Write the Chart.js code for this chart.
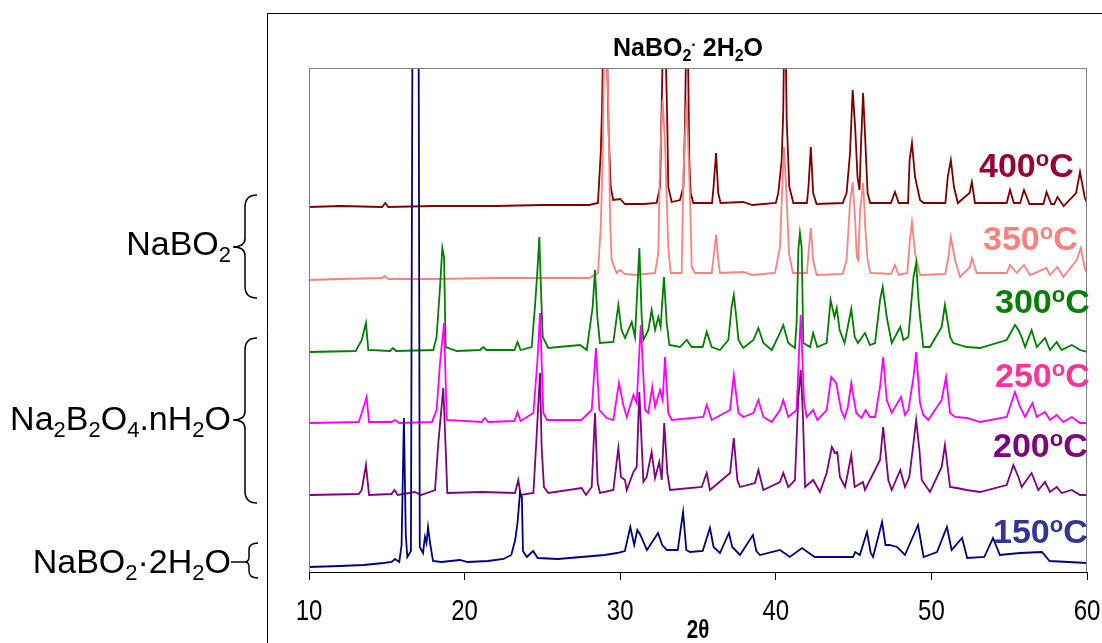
<!DOCTYPE html>
<html><head><meta charset="utf-8">
<script src="https://cdn.jsdelivr.net/npm/chart.js@4.4.0/dist/chart.umd.min.js"></script>
<style>html,body{margin:0;padding:0;background:#fff;overflow:hidden}</style>
</head><body>
<canvas id="c" width="1102" height="643"></canvas>
<script>
// ---------- DATA ----------
const temperatures = ['150', '200', '250', '300', '350', '400'];
const offsets = [7, 77, 149, 220, 293, 365];           // stacking offsets (intensity units)
const lineColors = ['#000080', '#800080', '#FF00FF', '#008000', '#FF8080', '#800000'];
const labelColors = ['#333399', '#800080', '#FF3399', '#008000', '#FF8080', '#990033'];
const xTicks = [10, 20, 30, 40, 50, 60];
const axisTitle = '2θ';
const titleParts = [['NaBO', ''], ['2', 'sub'], ['.', 'sup'], [' 2H', ''], ['2', 'sub'], ['O', '']];
const phaseLabels = [
  [['NaBO', ''], ['2', 'sub']],
  [['Na', ''], ['2', 'sub'], ['B', ''], ['2', 'sub'], ['O', ''], ['4', 'sub'], ['.nH', ''], ['2', 'sub'], ['O', '']],
  [['NaBO', ''], ['2', 'sub'], ['·', ''], ['2H', ''], ['2', 'sub'], ['O', '']]
];

// [2theta, intensity above the pattern's own baseline]
const pattern150 = [[10,-2],[12,-1],[13.5,0],[14.8,2],[15.3,3],[15.53,6],[15.8,3],[15.95,20],[16.1,147],[16.22,30],[16.32,8],[16.55,14],[16.68,700],[17.02,700],[17.12,18],[17.33,12],[17.45,28],[17.55,22],[17.65,38],[17.78,22],[17.97,4],[18.5,3],[19.7,5],[20.2,3],[21.5,4],[22.5,6],[23.0,10],[23.25,25],[23.4,42],[23.56,72],[23.68,68],[23.75,14],[24.0,8],[24.4,14],[24.7,7],[26.0,6],[27.5,8],[29.0,10],[29.8,12],[30.3,14],[30.65,38],[30.9,20],[31.1,35],[31.3,30],[31.72,15],[32.43,32],[32.7,20],[33.0,15],[33.7,15],[34.04,53],[34.25,15],[34.49,13],[35.3,14],[35.77,37],[36.0,18],[36.41,12],[36.99,32],[37.2,18],[37.7,10],[38.53,30],[38.75,14],[38.98,10],[40.27,15],[40.9,8],[41.68,17],[42.5,8],[44.96,8],[45.1,13],[45.4,10],[45.86,33],[46.1,12],[46.25,8],[46.83,43],[47.05,20],[47.3,20],[47.8,18],[48.3,10],[49.14,40],[49.5,8],[50.36,13],[51.0,38],[51.3,15],[51.97,27],[52.3,7],[53.4,8],[53.96,27],[54.4,10],[55.7,12],[57.1,13],[57.6,4],[60,2]];
const pattern200 = [[10,0],[13.2,1],[13.39,5],[13.66,30],[13.86,0],[15.3,1],[15.49,5],[15.7,0],[16.81,3],[17.2,0],[18.1,5],[18.31,52],[18.63,107],[18.78,48],[18.89,2],[21.1,3],[23.24,2],[23.45,15],[23.6,0],[24.42,2],[24.59,48],[24.85,122],[24.95,48],[25.1,8],[25.38,2],[27.52,7],[27.8,0],[28.17,8],[28.38,82],[28.55,12],[28.7,2],[29.56,5],[29.88,47],[30.05,18],[30.31,15],[30.42,5],[30.85,23],[31.06,28],[31.23,103],[31.49,13],[31.7,18],[32.02,43],[32.24,17],[32.51,33],[32.67,15],[32.83,72],[33.03,22],[33.2,5],[35.24,8],[35.56,22],[35.77,5],[37.06,22],[37.3,57],[37.53,15],[37.7,8],[38.66,12],[38.88,25],[39.2,5],[40.27,13],[40.48,22],[40.8,8],[41.23,15],[41.44,95],[41.6,125],[41.73,85],[41.88,8],[42.4,15],[42.84,3],[43.27,22],[43.6,48],[43.8,42],[43.95,43],[44.12,18],[44.45,8],[44.63,22],[44.85,40],[45.07,8],[45.6,13],[45.73,5],[46.7,35],[46.9,68],[47.23,15],[47.45,5],[48.0,25],[48.3,8],[48.58,18],[48.85,52],[49.02,75],[49.23,45],[49.38,15],[49.91,3],[50.66,28],[50.87,50],[51.2,8],[51.62,7],[52.27,5],[53.12,3],[54.84,10],[55.27,30],[55.59,18],[55.8,8],[56.44,22],[56.87,5],[57.3,13],[57.62,3],[58.05,8],[58.37,2],[59.02,5],[59.55,0],[60,0]];
const pattern250 = [[10,0],[13.2,1],[13.39,10],[13.7,26],[13.86,1],[15.3,1],[15.53,3],[15.8,0],[17.9,1],[18.2,13],[18.42,60],[18.68,100],[18.85,3],[21.1,1],[21.3,5],[21.5,1],[23.2,2],[23.4,11],[23.6,2],[24.42,10],[24.67,60],[24.85,110],[25.06,10],[25.3,3],[27.5,3],[28.17,13],[28.44,75],[28.66,13],[29.13,5],[29.56,3],[29.92,40],[30.2,18],[30.42,6],[30.85,28],[31.06,20],[31.32,98],[31.6,13],[31.8,10],[32.06,36],[32.24,16],[32.56,33],[32.73,23],[32.88,66],[33.09,10],[33.31,3],[35.34,6],[35.56,18],[35.88,3],[37.06,13],[37.3,48],[37.6,10],[37.91,6],[38.56,10],[38.88,23],[39.2,6],[39.74,1],[40.27,13],[40.48,23],[40.8,6],[41.34,13],[41.5,73],[41.6,108],[41.73,56],[41.81,23],[41.98,6],[42.4,13],[42.67,3],[43.27,13],[43.56,46],[43.88,40],[44.2,13],[44.42,5],[44.63,16],[44.85,40],[45.17,10],[45.5,5],[45.77,13],[46.05,6],[46.38,6],[46.7,36],[46.9,66],[47.13,23],[47.45,10],[48.05,26],[48.3,8],[48.52,13],[48.85,46],[49.02,71],[49.27,20],[49.48,8],[49.8,3],[50.66,23],[50.94,46],[51.2,10],[51.52,6],[52.27,5],[53.12,1],[54.84,6],[55.37,31],[55.7,16],[56.02,6],[56.49,20],[56.77,6],[57.3,11],[57.62,3],[58.05,8],[58.48,1],[59.02,6],[59.55,0],[60,0]];
const pattern300 = [[10,0],[13.0,1],[13.39,12],[13.66,29],[13.81,2],[15.2,1],[15.4,4],[15.6,1],[17.99,2],[18.2,15],[18.42,65],[18.57,104],[18.68,95],[18.78,5],[19.5,1],[21.0,2],[21.2,5],[21.4,2],[23.2,2],[23.4,10],[23.6,2],[24.31,5],[24.52,45],[24.67,79],[24.8,115],[24.91,62],[25.02,15],[25.38,4],[27.42,7],[27.85,2],[28.23,45],[28.38,82],[28.53,35],[28.7,9],[29.56,10],[29.88,47],[30.09,22],[30.31,14],[30.74,30],[30.95,15],[31.1,62],[31.23,104],[31.38,35],[31.49,12],[31.81,22],[32.02,42],[32.24,22],[32.45,35],[32.6,25],[32.81,75],[32.99,29],[33.16,7],[33.84,5],[34.27,12],[34.6,5],[35.3,5],[35.56,20],[35.88,5],[36.41,2],[36.95,12],[37.16,45],[37.3,57],[37.46,35],[37.6,12],[37.91,4],[38.56,12],[38.88,24],[39.2,9],[39.74,2],[40.27,19],[40.48,27],[40.8,9],[41.23,4],[41.34,30],[41.45,102],[41.55,119],[41.66,105],[41.77,9],[42.2,5],[42.4,19],[42.67,5],[43.27,9],[43.52,52],[43.77,35],[43.92,44],[44.1,22],[44.42,9],[44.85,43],[45.07,15],[45.28,9],[45.73,19],[46.05,7],[46.38,9],[46.7,52],[46.87,65],[47.13,35],[47.45,9],[48.0,25],[48.2,12],[48.52,15],[48.85,75],[49.02,89],[49.17,52],[49.27,35],[49.48,5],[49.91,5],[50.66,25],[50.87,47],[51.2,15],[51.41,9],[52.27,5],[53.12,4],[54.84,12],[55.37,27],[55.59,22],[55.8,15],[56.02,5],[56.44,22],[56.77,5],[57.3,14],[57.62,2],[58.05,10],[58.37,2],[59.02,7],[59.55,2],[60,0]];
const pattern350 = [[10,-1],[12,0],[14.7,1],[14.88,3],[15.1,0],[18,0],[22,1],[25,1],[28,1],[28.57,6],[28.75,52],[28.87,119],[29.05,320],[29.26,152],[29.35,59],[29.45,19],[29.77,6],[29.99,9],[30.3,5],[31.0,4],[32.24,6],[32.45,26],[32.56,119],[32.73,179],[32.88,136],[32.99,79],[33.09,32],[33.24,6],[33.95,6],[34.06,102],[34.27,179],[34.49,79],[34.6,12],[34.8,6],[35.88,6],[35.98,19],[36.16,44],[36.3,19],[36.41,6],[37.9,7],[38.5,4],[39.95,6],[40.27,32],[40.4,86],[40.53,132],[40.7,80],[40.85,25],[41.1,6],[42.0,6],[42.1,26],[42.25,51],[42.4,19],[42.62,4],[44.3,5],[44.55,19],[44.77,76],[44.94,97],[45.1,59],[45.2,22],[45.3,19],[45.42,69],[45.61,96],[45.75,52],[45.9,19],[46.07,6],[47.4,5],[47.66,14],[47.9,4],[48.45,6],[48.62,39],[48.75,57],[48.95,26],[49.27,4],[50.9,5],[51.09,22],[51.25,42],[51.52,19],[51.84,2],[52.48,12],[52.6,21],[52.91,6],[54.84,6],[55.05,14],[55.48,6],[55.95,14],[56.34,4],[57.4,11],[57.62,4],[58.1,12],[58.48,2],[59.34,19],[59.6,31],[59.88,9],[60,6]];
const pattern400 = [[10,0],[12,1],[14.7,0],[14.9,4],[15.1,0],[18,1],[22,1],[25,2],[28,2],[28.57,4],[28.75,54],[28.83,97],[29.0,260],[29.26,74],[29.39,20],[29.55,7],[30.0,8],[30.3,3],[31.5,3],[32.34,4],[32.56,20],[32.67,104],[32.82,230],[33.03,80],[33.09,20],[33.31,5],[33.84,7],[34.06,20],[34.16,80],[34.3,230],[34.44,47],[34.53,14],[34.7,4],[35.9,4],[36.0,20],[36.16,54],[36.3,14],[36.45,4],[37.9,5],[38.5,2],[40.0,4],[40.16,14],[40.38,47],[40.48,97],[40.58,230],[40.7,87],[40.87,20],[41.13,4],[42.0,4],[42.1,20],[42.25,60],[42.4,14],[42.62,3],[44.3,4],[44.55,14],[44.77,54],[44.94,117],[45.1,80],[45.25,30],[45.38,17],[45.48,64],[45.61,114],[45.75,67],[45.9,14],[46.07,4],[47.4,4],[47.66,15],[47.9,4],[48.5,4],[48.6,47],[48.75,64],[48.95,30],[49.27,7],[49.5,4],[50.9,4],[51.05,30],[51.25,47],[51.45,20],[51.7,4],[52.45,14],[52.6,25],[52.8,4],[54.84,4],[55.05,17],[55.3,4],[55.7,4],[55.95,17],[56.3,3],[57.2,3],[57.4,15],[57.7,3],[57.9,3],[58.1,10],[58.5,1],[59.3,14],[59.55,35],[59.85,10],[60,4]];
const patterns = [pattern150, pattern200, pattern250, pattern300, pattern350, pattern400];

// ---------- LAYOUT / DRAWING ----------
const FONT = '"Liberation Sans", Arial, sans-serif';

function richWidth(ctx, parts, size, small, weight) {
  let w = 0;
  for (const [t, s] of parts) {
    ctx.font = `${weight} ${s ? small : size}px ${FONT}`;
    w += ctx.measureText(t).width;
  }
  return w;
}
function drawRich(ctx, parts, x, y, o) {
  let cx = x;
  ctx.textBaseline = 'alphabetic';
  ctx.textAlign = 'left';
  ctx.fillStyle = o.color;
  for (const [t, s] of parts) {
    ctx.font = `${o.weight} ${s ? o.small : o.size}px ${FONT}`;
    const dy = s === 'sub' ? o.subDy : (s === 'sup' ? -o.supDy : 0);
    ctx.fillText(t, cx, y + dy);
    cx += ctx.measureText(t).width;
  }
  return cx;
}
function narrowText(ctx, text, x, y, font, sx) {
  ctx.save();
  ctx.font = font;
  ctx.fillStyle = '#000';
  ctx.textAlign = 'center';
  ctx.textBaseline = 'alphabetic';
  ctx.translate(x, y);
  ctx.scale(sx, 1);
  ctx.fillText(text, 0, 0);
  ctx.restore();
}
function brace(ctx, xEnd, xSpine, xTip, y0, ym, y1, r) {
  ctx.beginPath();
  ctx.moveTo(xEnd, y0);
  ctx.quadraticCurveTo(xSpine, y0, xSpine, y0 + r);
  ctx.lineTo(xSpine, ym - r * 0.7);
  ctx.quadraticCurveTo(xSpine, ym, xTip, ym);
  ctx.quadraticCurveTo(xSpine, ym, xSpine, ym + r * 0.7);
  ctx.lineTo(xSpine, y1 - r);
  ctx.quadraticCurveTo(xSpine, y1, xEnd, y1);
  ctx.stroke();
}

const tempLabelPos = [[993, 543], [993, 457], [995, 387], [995, 313], [983, 250], [979, 177]];

const decor = {
  id: 'decor',
  beforeDraw(chart) {
    const ctx = chart.ctx;
    ctx.save();
    ctx.fillStyle = '#fff';
    ctx.fillRect(0, 0, chart.width, chart.height);
    ctx.restore();
  },
  afterDraw(chart) {
    const ctx = chart.ctx;
    const a = chart.chartArea;
    const xs = chart.scales.x;
    ctx.save();
    ctx.strokeStyle = '#808080';
    ctx.lineWidth = 1;
    ctx.beginPath();
    ctx.moveTo(a.left + 0.5, a.bottom);
    ctx.lineTo(a.left + 0.5, a.top + 0.5);
    ctx.lineTo(a.right - 0.5, a.top + 0.5);
    ctx.lineTo(a.right - 0.5, a.bottom);
    ctx.stroke();
    ctx.strokeStyle = '#000';
    ctx.beginPath();
    ctx.moveTo(267.5, 643);
    ctx.lineTo(267.5, 13.5);
    ctx.lineTo(1102, 13.5);
    ctx.stroke();
    xTicks.forEach(v => narrowText(ctx, String(v), xs.getPixelForValue(v), 620, `30px ${FONT}`, 0.8));
    narrowText(ctx, axisTitle, (a.left + a.right) / 2, 638, `bold 25px ${FONT}`, 0.82);
    const tw = richWidth(ctx, titleParts, 25, 16, 'bold');
    drawRich(ctx, titleParts, 688 - tw / 2, 56, {size: 25, small: 16, weight: 'bold', color: '#000', subDy: 5, supDy: 10});
    temperatures.forEach((t, i) => {
      const parts = [[t, ''], ['o', 'sup'], ['C', '']];
      const [x, y] = tempLabelPos[i];
      drawRich(ctx, parts, x, y, {size: 34, small: 22, weight: 'bold', color: labelColors[i], subDy: 0, supDy: 11});
    });
    const phaseY = [255, 430, 573];
    phaseLabels.forEach((parts, i) => {
      const w = richWidth(ctx, parts, 34, 22, 'normal');
      drawRich(ctx, parts, 231 - w, phaseY[i], {size: 34, small: 22, weight: 'normal', color: '#000', subDy: 7, supDy: 10});
    });
    ctx.strokeStyle = '#000';
    ctx.lineWidth = 1.5;
    brace(ctx, 257, 245, 233, 195, 247, 298, 12);
    brace(ctx, 257, 245, 233, 338, 420, 503, 12);
    brace(ctx, 258, 249, 245, 543, 562, 578, 7);
    ctx.beginPath();
    ctx.moveTo(231, 562);
    ctx.lineTo(245, 562);
    ctx.stroke();
    ctx.restore();
  }
};

const datasets = patterns.map((p, i) => ({
  label: temperatures[i] + ' °C',
  data: p.map(([t, v]) => ({x: t, y: offsets[i] + v})),
  borderColor: lineColors[i],
  borderWidth: 1.8,
  pointRadius: 0,
  tension: 0,
  fill: false,
  clip: 0
}));

new Chart(document.getElementById('c'), {
  type: 'line',
  data: {datasets},
  options: {
    responsive: false,
    animation: false,
    devicePixelRatio: 1,
    layout: {padding: {left: 309, right: 15, top: 68, bottom: 0}},
    plugins: {legend: {display: false}, tooltip: {enabled: false}, title: {display: false}},
    scales: {
      x: {
        type: 'linear', min: 10, max: 60,
        afterBuildTicks: s => { s.ticks = xTicks.map(v => ({value: v})); },
        afterFit: s => { s.height = 71; s.paddingLeft = 0; s.paddingRight = 0; },
        ticks: {display: false},
        grid: {drawOnChartArea: false, drawTicks: true, tickLength: 8, color: '#000', lineWidth: 1},
        border: {display: true, color: '#000', width: 1},
        title: {display: false}
      },
      y: {display: false, min: 0, max: 504}
    }
  },
  plugins: [decor]
});
</script>
</body></html>
